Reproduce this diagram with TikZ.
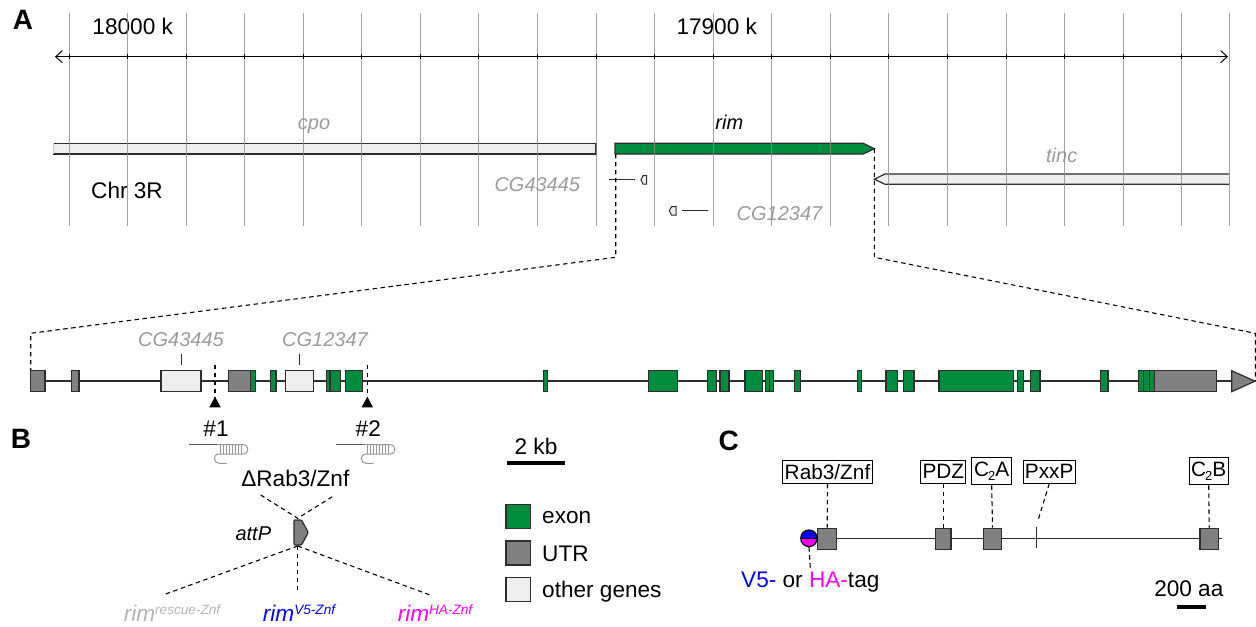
\documentclass[tikz,border=0pt]{standalone}
\usepackage{fontspec}
\setmainfont{Liberation Sans}
\usetikzlibrary{arrows.meta}

\definecolor{exongreen}{RGB}{0,140,62}
\definecolor{utrgray}{RGB}{128,128,128}
\definecolor{othergray}{RGB}{238,238,238}
\definecolor{namegray}{RGB}{155,155,155}
\definecolor{rescuegray}{RGB}{180,180,180}
\definecolor{gridgray}{RGB}{140,140,140}
\definecolor{edgegray}{RGB}{45,45,45}
\definecolor{spacergray}{RGB}{85,85,85}
\definecolor{hairpingray}{RGB}{150,150,150}
\definecolor{clipblue}{RGB}{170,215,240}
\definecolor{tagblue}{RGB}{0,0,255}
\definecolor{tagmagenta}{RGB}{255,0,255}

\tikzset{
  exon/.style={draw=edgegray,fill=exongreen,line width=0.6pt},
  utr/.style={draw=edgegray,fill=utrgray,line width=0.6pt},
  othergene/.style={draw=edgegray,fill=othergray,line width=0.6pt},
  zoomdash/.style={dash pattern=on 2.2pt off 1.8pt,line width=0.55pt},
  protdomain/.style={draw=edgegray,fill=utrgray,line width=0.6pt,minimum height=10.5pt,inner sep=0pt},
  domainlabel/.style={draw,line width=0.5pt,inner sep=0pt,minimum height=11.65pt,font=\fontsize{10.4}{12}\selectfont},
  panel/.style={font=\bfseries\fontsize{14}{16}\selectfont,anchor=base},
  genename/.style={font=\itshape,text=namegray,anchor=base},
  keybox/.style={draw=edgegray,line width=0.55pt,minimum width=12.3pt,minimum height=12pt,inner sep=0pt},
}

% allele name with a small raised tag
\newcommand{\rimallele}[1]{\textit{rim}\raisebox{3.4pt}{\fontsize{6.8}{8}\selectfont\itshape #1}}
% C2 domain name with a lowered 2
\newcommand{\ctwo}{C\kern-0.5pt\raisebox{-2.2pt}{\fontsize{6.5}{7}\selectfont 2}}

% guide RNA: spacer line, stem-loop and tail
\newcommand{\sgrna}[1]{%
  \begin{scope}[shift={(#1)}]
    \draw[spacergray,line width=0.7pt] (0,0) -- (28,0);
    \draw[hairpingray,line width=0.5pt] (28,0) -- (54,0)
      .. controls (60.5,0) and (60.5,9.3) .. (54,9.3) -- (29.3,9.3)
      .. controls (24,9.3) and (24,18.6) .. (30,18.6) -- (37.5,18.6);
    \foreach \t in {31.5,34.5,...,52.5}
      \draw[hairpingray,line width=0.45pt] (\t,0) -- (\t,9.3);
  \end{scope}}

\begin{document}
\begin{tikzpicture}[x=0.5pt,y=-0.5pt,font=\fontsize{11.3}{13.5}\selectfont,line width=0.5pt]
\useasboundingbox (0,0) rectangle (1256,626);
% ---- A: genome browser view ----
\node[panel] (panelA) at (23,30) {A};
\node[anchor=base] (pos18000) at (132.7,35) {18000 k};
\node[anchor=base] (pos17900) at (716.7,35) {17900 k};
% cpo, rim, tinc and the two small genes
\fill[othergray] (53.3,143.3) rectangle (596,154);
\draw[edgegray,line width=0.6pt] (53.3,143.3) -- (596,143.3) -- (596,154) -- (53.3,154);
\draw[clipblue,line width=0.6pt] (53.3,143.3) -- (53.3,154);
\filldraw[exon] (615,143.3) -- (863.3,143.3) -- (874.3,148.7) -- (863.3,154) -- (615,154) -- cycle;
\fill[othergray] (1229.3,174) -- (885,174) -- (874.3,179.2) -- (885,184.3) -- (1229.3,184.3) -- cycle;
\draw[edgegray,line width=0.6pt] (1229.3,174) -- (885,174) -- (874.3,179.2) -- (885,184.3) -- (1229.3,184.3);
\draw[clipblue,line width=0.6pt] (1229.3,174) -- (1229.3,184.3);
\draw[edgegray] (609,179.3) -- (635,179.3);
\filldraw[othergene,line width=0.5pt] (646.7,175.7) -- (643,175.7) -- (641,179.8) -- (643,184) -- (646.7,184) -- cycle;
\filldraw[othergene,line width=0.5pt] (676,206.7) -- (671.5,206.7) -- (669.3,210.8) -- (671.5,215) -- (676,215) -- cycle;
\draw[edgegray] (681.7,210.5) -- (708.3,210.5);
\node[genename] (nameCpo) at (314,129.5) {cpo};
\node[anchor=base,font=\itshape] (nameRim) at (729.3,129.5) {rim};
\node[genename] (nameTinc) at (1061.7,162.7) {tinc};
\node[genename] (nameCGaTop) at (537.3,191.5) {CG43445};
\node[genename] (nameCGbTop) at (779.5,220.5) {CG12347};
\node[anchor=base] (chrom) at (127,198) {Chr 3R};
% vertical grid, 20 kb apart
\foreach \i in {0,...,19}
  \draw[gridgray,opacity=0.8] ({69+58.57*\i},13) -- ({69+58.57*\i},226);
\draw[gridgray,opacity=0.8] (1229.3,13) -- (1229.3,226);
% coordinate ruler
\coordinate (rulerW) at (55,56.7);
\coordinate (rulerE) at (1228,56.7);
\draw[{Straight Barb[length=3.3pt,width=6pt]}-{Straight Barb[length=3.3pt,width=6pt]}] (rulerW) -- (rulerE);
\foreach \i in {0,...,19}
  \draw ({69+58.57*\i},54.5) -- ++(0,4.5);
% zoom lines down to the exon map
\coordinate (rimW) at (615.7,154);
\coordinate (rimE) at (874.3,148.7);
\coordinate (mapW) at (30.7,370.7);
\coordinate (mapE) at (1255.3,381);
\draw[zoomdash] (rimW) -- (615.7,257.3) -- (30.7,333.3) -- (mapW);
\draw[zoomdash] (rimE) -- (874.3,257.3) -- (1255.3,333.3) -- (mapE);
% ---- exon map of rim ----
\draw[edgegray,line width=0.6pt] (30.7,381) -- (1232,381);
\foreach \a/\b in {30.7/45,71.7/79,228.3/250.7,1154.5/1216.7}
  \filldraw[utr] (\a,370.7) rectangle (\b,391.7);
\foreach \a/\b in {250.7/255.7,270.7/276,326.7/330,330/340.7,345.3/362.7,543.3/547.7,
    648.3/677.7,707.7/716.7,720/729,745/762.7,765.3/769.3,769.3/773.3,794.7/800.3,
    857.3/861.7,886/897.3,903.3/914,939/1013.7,1017.3/1023.3,1030.7/1040,1100.7/1108,
    1138.3/1143.3,1143.3/1149.3,1149.3/1154.5}
  \filldraw[exon] (\a,370.7) rectangle (\b,391.7);
\filldraw[utr] (1231.7,370.7) -- (1255,381.2) -- (1231.7,391.7) -- cycle;
\node[othergene,minimum width=20pt,minimum height=10.5pt,inner sep=0pt] (boxCGa) at (181,381.2) {};
\node[othergene,minimum width=13.8pt,minimum height=10.5pt,inner sep=0pt] (boxCGb) at (299.5,381.2) {};
\node[genename] (nameCGa) at (181,346.7) {CG43445};
\node[genename] (nameCGb) at (325,346.7) {CG12347};
\draw[edgegray,shorten >=2.5pt] (boxCGa.north |- nameCGa.south) -- (boxCGa.north);
\draw[edgegray,shorten >=2.5pt] (boxCGb.north |- nameCGb.south) -- (boxCGb.north);
% ---- B: cut sites, guides and the attP allele ----
\node[panel] (panelB) at (21,448.3) {B};
\foreach \c/\n in {215/1,367.3/2}{
  \draw[zoomdash] (\c,365) -- (\c,400);
  \fill (\c,396.7) -- (\c+5.7,407.3) -- (\c-5.7,407.3) -- cycle;
  \node[anchor=base] (guide\n) at (\c+1,436.7) {\#\n};
}
\sgrna{189,444.7}
\sgrna{336,444.7}
\node[anchor=base] (deltaRab) at (295.3,486.7) {ΔRab3/Znf};
\coordinate (delW) at (260.7,495);
\coordinate (delE) at (335,495);
\coordinate (attPin) at (297.7,518.3);
\coordinate (attPout) at (297.7,546);
\draw[zoomdash] (delW) -- (attPin) -- (delE);
\filldraw[utr,rounded corners=0.5pt] (294,520) -- (301.5,520) -- (308.3,532.5) -- (301.5,545) -- (294,545) -- cycle;
\node[anchor=base,font=\itshape] (attP) at (253.3,540) {attP};
\coordinate (toRescue) at (165.7,594);
\coordinate (toVfive) at (297.7,593.3);
\coordinate (toHA) at (430,595);
\draw[zoomdash] (attPout) -- (toRescue);
\draw[zoomdash] (attPout) -- (toVfive);
\draw[zoomdash] (attPout) -- (toHA);
\node[anchor=base,text=rescuegray] (rimRescue) at (172,621.7) {\rimallele{rescue-Znf}};
\node[anchor=base,text=tagblue] (rimVfive) at (299,621.7) {\rimallele{V5-Znf}};
\node[anchor=base,text=tagmagenta] (rimHA) at (435,621.7) {\rimallele{HA-Znf}};
% scale bar and key
\node[anchor=base] (scaleKb) at (536,454) {2 kb};
\draw[line width=2pt] (506.7,462.7) -- (565,462.7);
\node[keybox,fill=exongreen] (keyExon) at (518.3,516.3) {};
\node[keybox,fill=utrgray] (keyUtr) at (518.3,553) {};
\node[keybox,fill=othergray] (keyOther) at (518.3,589.7) {};
\node[anchor=base west,inner sep=0pt] (keyExonText) at (541.7,523.3) {exon};
\node[anchor=base west,inner sep=0pt] (keyUtrText) at (541.7,561.7) {UTR};
\node[anchor=base west,inner sep=0pt] (keyOtherText) at (541.7,597.7) {other genes};
% ---- C: protein domains ----
\node[panel] (panelC) at (728.7,450) {C};
\draw[edgegray,line width=0.6pt] (809,538.7) -- (1221.7,538.7);
\node[protdomain,minimum width=9.5pt] (dRab) at (827.2,538.8) {};
\node[protdomain,minimum width=7.6pt] (dPdz) at (943.3,538.8) {};
\node[protdomain,minimum width=9.2pt] (dCtwoA) at (992.5,538.8) {};
\node[protdomain,minimum width=9.2pt] (dCtwoB) at (1209.2,538.8) {};
\draw[edgegray,line width=0.6pt] (1036.7,526.7) -- (1036.7,548.3);
\coordinate (pxxp) at (1037.5,522);
\node[domainlabel,minimum width=45.2pt] (lRab) at (827.5,471.7) {Rab3/Znf};
\node[domainlabel,minimum width=22.6pt] (lPdz) at (943.3,471.7) {PDZ};
\node[domainlabel,minimum width=20pt,minimum height=13.6pt] (lCtwoA) at (991.7,471.3) {\ctwo A};
\node[domainlabel,minimum width=25.8pt] (lPxxP) at (1049.2,471.7) {PxxP};
\node[domainlabel,minimum width=19.6pt,minimum height=13.6pt] (lCtwoB) at (1208.7,471.3) {\ctwo B};
\draw[zoomdash] (lRab.south) -- (dRab.north);
\draw[zoomdash] (lPdz.south) -- (dPdz.north);
\draw[zoomdash] (lCtwoA.south) -- (dCtwoA.north);
\draw[zoomdash] (lPxxP.south) -- (pxxp);
\draw[zoomdash] (lCtwoB.south) -- (dCtwoB.north);
% N-terminal tag
\node[circle,draw,line width=0.6pt,minimum size=8.3pt,inner sep=0pt,
  path picture={
    \fill[tagblue] (path picture bounding box.north west) rectangle (path picture bounding box.east);
    \fill[tagmagenta] (path picture bounding box.west) rectangle (path picture bounding box.south east);
  }] (tag) at (809,538.3) {};
\draw[line width=0.6pt] (tag.west) -- (tag.east);
\node[anchor=base,inner sep=1.5pt] (tagText) at (810.3,587.3)
  {{\color{tagblue}V5-} or {\color{tagmagenta}HA-}tag};
\draw[zoomdash] (tag.south) -- (tagText.north);
\node[anchor=base] (scaleAa) at (1188.8,596.7) {200 aa};
\draw[line width=2pt] (1176.7,606.7) -- (1205.7,606.7);
\end{tikzpicture}
\end{document}
